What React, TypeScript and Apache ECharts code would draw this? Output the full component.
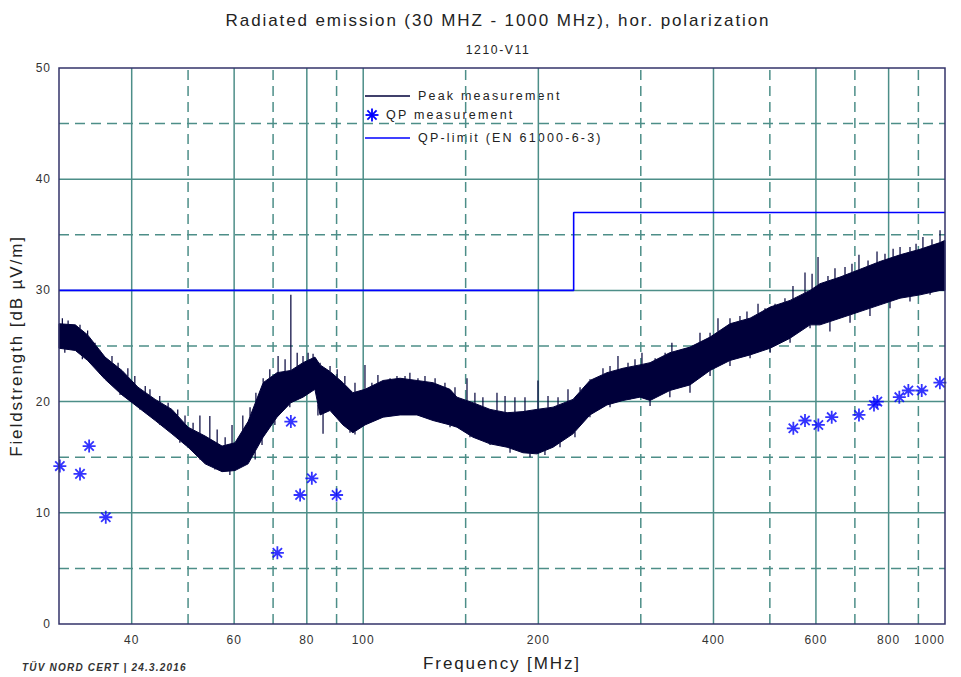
import React, { useEffect, useRef } from "react";
import * as echarts from "echarts";

// ---- data ----
const TITLE = "Radiated emission (30 MHZ - 1000 MHz), hor. polarization";
const SUBTITLE = "1210-V11";
const FOOTER = "TÜV NORD CERT | 24.3.2016";

const X_TICKS = [40, 60, 80, 100, 200, 400, 600, 800, 1000];
const X_GRID_SOLID = [40, 60, 80, 100, 200, 400, 600, 800];
const X_GRID_DASHED = [50, 70, 90, 150, 300, 500, 700, 900];
const Y_GRID_SOLID = [10, 20, 30, 40];
const Y_GRID_DASHED = [5, 15, 25, 35, 45];

// Peak measurement envelope (frequency MHz, upper dB, lower dB)
const PEAK_FREQ = [30, 32.0, 33.6, 36.0, 38.5, 41.0, 43.9, 46.9, 50.0, 53.5, 57.2, 60.2, 63.4, 67.3, 71.1, 75.1, 78.8, 82.6, 84.3, 87.7, 92.3, 96.0, 100.7, 108.2, 115.7, 123.7, 131.8, 141.0, 144.9, 154.4, 165.2, 176.7, 188.2, 198.9, 212.0, 229.4, 245.3, 262.4, 279.6, 299.0, 311.2, 336.6, 364.5, 394.6, 427.0, 462.3, 500.5, 541.6, 586.2, 609.6, 660.1, 714.6, 773.2, 837.0, 906.0, 980.5, 1000];
const PEAK_TOP = [27.0, 26.9, 26.0, 24.0, 22.8, 21.3, 20.2, 19.3, 17.7, 16.9, 16.0, 16.3, 18.2, 21.7, 22.6, 22.8, 23.5, 24.0, 23.3, 22.7, 21.7, 20.8, 21.1, 21.9, 22.1, 21.9, 21.7, 21.1, 20.4, 19.9, 19.3, 19.0, 19.1, 19.3, 19.5, 20.2, 21.9, 22.6, 23.0, 23.3, 23.5, 24.4, 24.9, 25.8, 27.0, 27.5, 28.5, 29.1, 30.0, 30.6, 31.2, 31.9, 32.6, 33.2, 33.7, 34.3, 34.5];
const PEAK_BOTTOM = [24.8, 24.6, 23.7, 22.0, 20.6, 19.5, 18.3, 17.1, 15.9, 14.4, 13.7, 13.8, 14.4, 16.8, 18.6, 19.9, 20.4, 21.1, 18.8, 19.2, 17.9, 17.2, 17.9, 18.6, 18.8, 18.8, 18.3, 17.9, 17.7, 16.8, 16.2, 15.9, 15.4, 15.3, 15.9, 17.1, 18.8, 19.7, 20.1, 20.4, 20.1, 21.0, 21.5, 22.8, 23.7, 24.2, 24.8, 25.7, 26.9, 26.9, 27.5, 28.1, 28.7, 29.3, 29.6, 30.0, 30.0];

// Visible upward spikes on the peak trace (frequency MHz, top dB)
const SPIKE_UP_FREQ = [30.4, 31.1, 32.6, 33.6, 34.6, 35.3, 37.0, 37.9, 39.4, 40.5, 42.2, 43.0, 44.7, 46.2, 48.0, 49.4, 51.0, 52.4, 54.5, 56.1, 57.9, 59.5, 62.1, 63.9, 65.4, 67.3, 69.1, 71.4, 73.4, 75.1, 77.0, 78.8, 80.4, 82.0, 84.3, 87.7, 90.2, 93.0, 96.8, 100.7, 103.5, 106.0, 111.2, 114.3, 118.0, 120.3, 124.2, 127.7, 132.9, 138.2, 143.8, 150.8, 155.6, 160.6, 169.8, 175.3, 182.3, 189.7, 199.7, 207.8, 216.2, 224.9, 235.9, 245.3, 258.3, 265.6, 274.1, 285.2, 293.2, 301.4, 317.5, 330.3, 339.3, 357.3, 379.2, 394.6, 407.2, 427.0, 444.2, 456.7, 477.1, 490.5, 510.4, 530.8, 547.9, 574.6, 590.9, 605.0, 629.3, 647.0, 673.2, 692.0, 711.4, 737.4, 764.1, 788.6, 814.3, 837.0, 870.6, 891.7, 916.4, 949.8, 980.5];
const SPIKE_UP_DB = [27.5, 27.3, 26.9, 26.4, 25.3, 24.6, 24.1, 23.5, 23.0, 22.3, 21.4, 21.1, 20.5, 19.9, 19.3, 18.75, 18.1, 18.75, 18.7, 17.5, 16.8, 17.9, 18.75, 19.5, 20.8, 22.1, 22.9, 24.1, 23.8, 29.6, 24.4, 24.1, 24.4, 24.3, 23.5, 23.2, 22.9, 22.3, 21.7, 23.3, 21.7, 22.4, 22.1, 22.3, 22.3, 22.6, 22.1, 22.3, 22.1, 21.7, 21.3, 22.1, 20.8, 20.4, 20.8, 20.5, 20.4, 20.4, 21.9, 20.5, 20.4, 21.1, 21.3, 22.0, 23.0, 23.2, 24.1, 23.5, 23.8, 24.4, 23.9, 24.4, 25.3, 24.8, 26.2, 26.2, 27.5, 27.5, 27.7, 28.1, 28.8, 28.4, 28.8, 29.3, 30.4, 31.6, 31.5, 33.0, 31.3, 32.0, 32.1, 32.4, 33.2, 32.7, 33.5, 33.3, 33.75, 33.9, 33.9, 34.2, 34.8, 34.6, 35.4];

// Visible downward spikes on the peak trace (frequency MHz, bottom dB)
const SPIKE_DOWN_FREQ = [30.7, 32.9, 35.3, 38.2, 41.3, 44.7, 48.4, 52.4, 55.6, 59.0, 65.2, 67.0, 70.5, 74.8, 83.6, 85.3, 94.9, 96.8, 141.0, 152.6, 165.2, 178.8, 193.5, 205.3, 217.9, 231.2, 245.3, 265.6, 287.4, 311.2, 336.6, 364.5, 394.6, 427.0, 462.3, 500.5, 541.6, 586.2, 634.2, 686.7, 743.1, 804.4, 870.6, 942.6];
const SPIKE_DOWN_DB = [24.4, 23.8, 22.9, 20.6, 19.3, 17.9, 16.3, 14.8, 13.9, 13.4, 14.8, 16.1, 17.9, 19.5, 18.75, 17.1, 17.2, 17.05, 17.7, 16.8, 16.1, 15.4, 15.0, 15.2, 15.9, 16.8, 18.6, 19.5, 20.2, 19.6, 20.4, 20.8, 22.3, 23.2, 23.9, 24.4, 25.3, 26.6, 26.3, 27.1, 27.7, 28.4, 29.0, 29.6];

// QP measurement points
const QP_FREQ = [30.1, 32.6, 33.8, 36.1, 71.2, 75.1, 77.9, 81.6, 90.0, 548.7, 574.6, 605.8, 638.7, 711.4, 755, 765, 834.6, 865, 912, 980];
const QP_DB = [14.2, 13.5, 16.0, 9.6, 6.4, 18.2, 11.6, 13.1, 11.6, 17.6, 18.3, 17.9, 18.6, 18.8, 19.7, 20.0, 20.4, 21.0, 21.0, 21.7];

// QP limit (EN 61000-6-3)
const LIMIT_FREQ = [30, 230, 230, 1000];
const LIMIT_DB = [30, 30, 37, 37];

const PEAK_COLOR = "#00003a";
const BLUE = "#0000ff";
const GRID_COLOR = "#4d8e88";
const FRAME_COLOR = "#33336a";
const FONT = "'Liberation Sans', Arial, sans-serif";
const LG = Math.log10;

const STAR_PATH =
  "path://M0 -6 L0 6 M-6 0 L6 0 M-4.3 -4.3 L4.3 4.3 M-4.3 4.3 L4.3 -4.3";

// edge value of the band at a frequency (for joining spikes to the band)
function bandAt(edge: number[], f: number): number {
  const x = LG(f);
  for (let i = 0; i < PEAK_FREQ.length - 1; i++) {
    const x0 = LG(PEAK_FREQ[i]);
    const x1 = LG(PEAK_FREQ[i + 1]);
    if (x >= x0 && x <= x1) {
      const t = (x - x0) / (x1 - x0 || 1);
      return edge[i] + t * (edge[i + 1] - edge[i]);
    }
  }
  return edge[edge.length - 1];
}

const CSS = `
#chartbox text[style*="17px"] { letter-spacing: 1.9px; }
#chartbox text[style*="12px"] { letter-spacing: 1px; }
#chartbox text[style*="12.5px"] { letter-spacing: 2.2px; }
#chartbox text[style*="12.2px"] { letter-spacing: 1.6px; }
#chartbox text[style*="10px"] { letter-spacing: 1.2px; }
`;

export default function App() {
  const ref = useRef<HTMLDivElement>(null);

  useEffect(() => {
    if (!ref.current) return;
    const chart = echarts.init(ref.current, null, { renderer: "svg" });

    const gridV = [
      ...X_GRID_SOLID.map((v) => [LG(v), 0]),
      ...X_GRID_DASHED.map((v) => [LG(v), 1]),
    ];
    const gridH = [
      ...Y_GRID_SOLID.map((v) => [v, 0]),
      ...Y_GRID_DASHED.map((v) => [v, 1]),
    ];

    const spikeSeries = (freqs: number[], vals: number[], edge: number[], name: string) => ({
      type: "custom",
      name,
      z: 4,
      silent: true,
      data: freqs.map((f, i) => [LG(f), vals[i], bandAt(edge, f)]),
      renderItem: (params: any, api: any) => {
        const a = api.coord([api.value(0), api.value(1)]);
        const b = api.coord([api.value(0), api.value(2)]);
        return {
          type: "line",
          shape: { x1: a[0], y1: a[1], x2: b[0], y2: b[1] },
          style: { stroke: PEAK_COLOR, lineWidth: 1.2 },
        };
      },
    });

    const option: any = {
      animation: false,
      backgroundColor: "#ffffff",
      grid: {
        left: 59,
        right: 16,
        top: 68,
        bottom: 49,
        show: true,
        z: 10,
        borderColor: FRAME_COLOR,
        borderWidth: 1.5,
        backgroundColor: "transparent",
      },
      xAxis: {
        type: "value",
        min: LG(30),
        max: 3,
        splitLine: { show: false },
        axisTick: { show: false },
        axisLine: { show: false },
        name: "Frequency [MHz]",
        nameLocation: "middle",
        nameGap: 31,
        nameTextStyle: { fontSize: 17, color: "#222", fontFamily: FONT },
        axisLabel: {
          customValues: X_TICKS.map((v) => LG(v)),
          formatter: (v: number) => String(Math.round(Math.pow(10, v))),
          fontSize: 12,
          color: "#333",
          fontFamily: FONT,
          margin: 10,
          alignMaxLabel: "right",
        },
      },
      yAxis: {
        type: "value",
        min: 0,
        max: 50,
        interval: 10,
        splitLine: { show: false },
        axisTick: { show: false },
        axisLine: { show: false },
        name: "Fieldstrength [dB µV/m]",
        nameLocation: "middle",
        nameGap: 34,
        nameTextStyle: { fontSize: 17, color: "#222", fontFamily: FONT },
        axisLabel: { fontSize: 12, color: "#333", fontFamily: FONT, margin: 8 },
      },
      graphic: [
        {
          type: "text",
          x: 498,
          y: 20,
          style: { text: TITLE, align: "center", verticalAlign: "middle", font: `17px ${FONT}`, fill: "#222" },
        },
        {
          type: "text",
          x: 498,
          y: 50,
          style: { text: SUBTITLE, align: "center", verticalAlign: "middle", font: `12.2px ${FONT}`, fill: "#222" },
        },
        {
          type: "text",
          x: 22,
          y: 667,
          style: { text: FOOTER, align: "left", verticalAlign: "middle", font: `italic bold 10px ${FONT}`, fill: "#333" },
        },
        // legend
        {
          type: "group",
          z: 20,
          children: [
            { type: "rect", shape: { x: 366, y: 86, width: 231, height: 62 }, style: { fill: "#fff" } },
            { type: "line", shape: { x1: 365, y1: 96, x2: 410, y2: 96 }, style: { stroke: PEAK_COLOR, lineWidth: 1.5 } },
            { type: "text", x: 418, y: 96, style: { text: "Peak measurement", verticalAlign: "middle", font: `12.5px ${FONT}`, fill: "#222" } },
            { type: "line", shape: { x1: 365.5, y1: 115, x2: 378.5, y2: 115 }, style: { stroke: BLUE, lineWidth: 1.8 } },
            { type: "line", shape: { x1: 372, y1: 108.5, x2: 372, y2: 121.5 }, style: { stroke: BLUE, lineWidth: 1.8 } },
            { type: "line", shape: { x1: 367.4, y1: 110.4, x2: 376.6, y2: 119.6 }, style: { stroke: BLUE, lineWidth: 1.8 } },
            { type: "line", shape: { x1: 367.4, y1: 119.6, x2: 376.6, y2: 110.4 }, style: { stroke: BLUE, lineWidth: 1.8 } },
            { type: "text", x: 386, y: 115, style: { text: "QP measurement", verticalAlign: "middle", font: `12.5px ${FONT}`, fill: "#222" } },
            { type: "line", shape: { x1: 365, y1: 138, x2: 410, y2: 138 }, style: { stroke: BLUE, lineWidth: 1.5 } },
            { type: "text", x: 418, y: 138, style: { text: "QP-limit (EN 61000-6-3)", verticalAlign: "middle", font: `12.5px ${FONT}`, fill: "#222" } },
          ],
        },
      ],
      series: [
        {
          type: "custom",
          name: "gridV",
          z: 1,
          silent: true,
          data: gridV,
          renderItem: (params: any, api: any) => {
            const a = api.coord([api.value(0), 0]);
            const b = api.coord([api.value(0), 50]);
            return {
              type: "line",
              shape: { x1: a[0], y1: a[1], x2: b[0], y2: b[1] },
              style: { stroke: GRID_COLOR, lineWidth: 1.5, lineDash: api.value(1) ? [10, 6] : null },
            };
          },
        },
        {
          type: "custom",
          name: "gridH",
          z: 1,
          silent: true,
          data: gridH,
          renderItem: (params: any, api: any) => {
            const a = api.coord([LG(30), api.value(0)]);
            const b = api.coord([3, api.value(0)]);
            return {
              type: "line",
              shape: { x1: a[0], y1: a[1], x2: b[0], y2: b[1] },
              style: { stroke: GRID_COLOR, lineWidth: 1.5, lineDash: api.value(1) ? [10, 6] : null },
            };
          },
        },
        {
          type: "line",
          name: "QP-limit (EN 61000-6-3)",
          z: 3,
          showSymbol: false,
          silent: true,
          data: LIMIT_FREQ.map((f, i) => [LG(f), LIMIT_DB[i]]),
          lineStyle: { color: BLUE, width: 1.6 },
        },
        {
          type: "custom",
          name: "Peak measurement",
          z: 4,
          silent: true,
          data: [[LG(30), 0]],
          renderItem: (params: any, api: any) => {
            const pts: number[][] = [];
            for (let i = 0; i < PEAK_FREQ.length; i++) pts.push(api.coord([LG(PEAK_FREQ[i]), PEAK_TOP[i]]));
            for (let i = PEAK_FREQ.length - 1; i >= 0; i--) pts.push(api.coord([LG(PEAK_FREQ[i]), PEAK_BOTTOM[i]]));
            return {
              type: "polygon",
              shape: { points: pts },
              style: { fill: PEAK_COLOR, stroke: PEAK_COLOR, lineWidth: 1 },
            };
          },
        },
        spikeSeries(SPIKE_UP_FREQ, SPIKE_UP_DB, PEAK_TOP, "spikesUp"),
        spikeSeries(SPIKE_DOWN_FREQ, SPIKE_DOWN_DB, PEAK_BOTTOM, "spikesDown"),
        {
          type: "scatter",
          name: "QP measurement",
          z: 5,
          silent: true,
          symbol: STAR_PATH,
          symbolSize: 13,
          data: QP_FREQ.map((f, i) => [LG(f), QP_DB[i]]),
          itemStyle: { color: BLUE, borderColor: BLUE, borderWidth: 1.8 },
        },
      ],
    };

    chart.setOption(option);
    return () => chart.dispose();
  }, []);

  return (
    <>
      <style>{CSS}</style>
      <div
        id="chartbox"
        ref={ref}
        style={{ position: "fixed", left: 0, top: 0, width: 961, height: 677, background: "#fff" }}
      />
    </>
  );
}
